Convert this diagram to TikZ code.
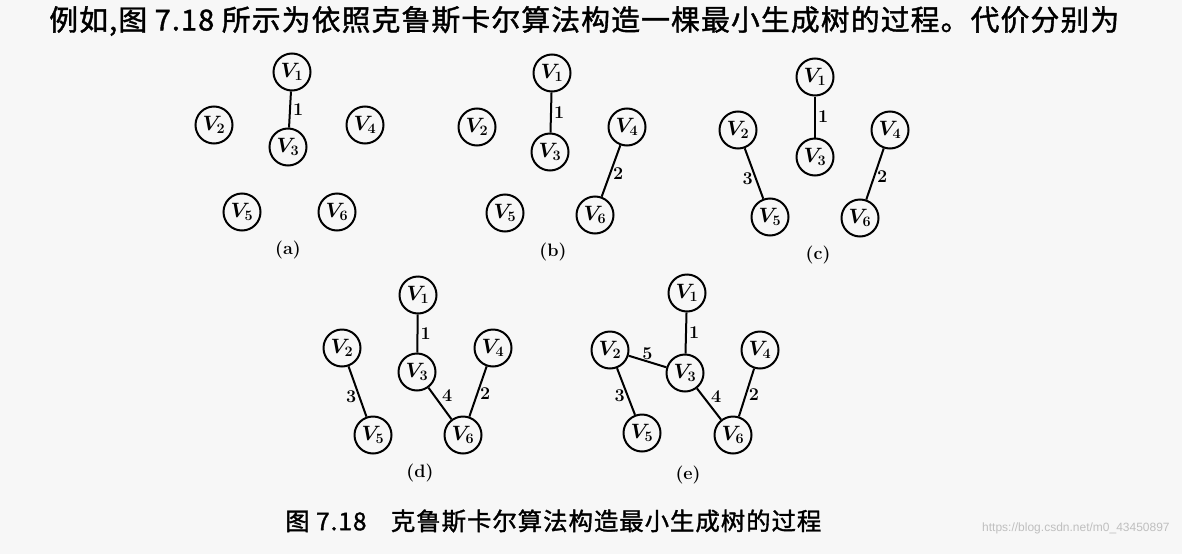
\documentclass[tikz,border=0pt]{standalone}
\usepackage{fontspec}
\newfontfamily\cjk[FakeBold=1.4,LetterSpace=4]{Noto Sans CJK SC}
\newfontfamily\wmfont{Liberation Sans}
\begin{document}
\begin{tikzpicture}[x=1pt,y=-1pt,line width=2pt,
vtx/.style={draw,circle,minimum size=37pt,inner sep=0pt,font=\fontsize{21}{21}\selectfont\boldmath},
wt/.style={font=\fontsize{18}{18}\selectfont\bfseries,inner sep=2pt},
sublabel/.style={font=\fontsize{18}{18}\selectfont\bfseries}]
\fill[black!3] (0,0) rectangle (1182,554);
\useasboundingbox (0,0) rectangle (1182,554);
\node[anchor=west] (intro) at (45,21) {\cjk\fontsize{28.8}{28}\selectfont 例如,图 7.18 所示为依照克鲁斯卡尔算法构造一棵最小生成树的过程。代价分别为};
% (a)
\node[vtx] (a1) at (292,72) {$V_1$};
\node[vtx] (a2) at (214,125) {$V_2$};
\node[vtx] (a3) at (288,147) {$V_3$};
\node[vtx] (a4) at (365,125) {$V_4$};
\node[vtx] (a5) at (242,212) {$V_5$};
\node[vtx] (a6) at (337,212) {$V_6$};
\node[sublabel] (capa) at (288,250) {(a)};
\draw (a1) -- node[wt,right]{1} (a3);
% (b)
\node[vtx] (b1) at (552,73) {$V_1$};
\node[vtx] (b2) at (477,127) {$V_2$};
\node[vtx] (b3) at (550,152) {$V_3$};
\node[vtx] (b4) at (627,127) {$V_4$};
\node[vtx] (b5) at (505,213) {$V_5$};
\node[vtx] (b6) at (595,215) {$V_6$};
\node[sublabel] (capb) at (553,252) {(b)};
\draw (b1) -- node[wt,right]{1} (b3);
\draw (b4) -- node[wt,right,pos=.55]{2} (b6);
% (c)
\node[vtx] (c1) at (815,77) {$V_1$};
\node[vtx] (c2) at (738,130) {$V_2$};
\node[vtx] (c3) at (815,157) {$V_3$};
\node[vtx] (c4) at (890,130) {$V_4$};
\node[vtx] (c5) at (770,217) {$V_5$};
\node[vtx] (c6) at (860,218) {$V_6$};
\node[sublabel] (capc) at (818,255) {(c)};
\draw (c1) -- node[wt,right]{1} (c3);
\draw (c2) -- node[wt,left,pos=.6]{3} (c5);
\draw (c4) -- node[wt,right,pos=.55]{2} (c6);
% (d)
\node[vtx] (d1) at (418,295) {$V_1$};
\node[vtx] (d2) at (342,348) {$V_2$};
\node[vtx] (d3) at (417,372) {$V_3$};
\node[vtx] (d4) at (493,348) {$V_4$};
\node[vtx] (d5) at (373,435) {$V_5$};
\node[vtx] (d6) at (463,435) {$V_6$};
\node[sublabel] (capd) at (420,473) {(d)};
\draw (d1) -- node[wt,right]{1} (d3);
\draw (d2) -- node[wt,left,pos=.6]{3} (d5);
\draw (d4) -- node[wt,right,pos=.55]{2} (d6);
\draw (d3) -- node[wt,above right,inner sep=1pt]{4} (d6);
% (e)
\node[vtx] (e1) at (687,293) {$V_1$};
\node[vtx] (e2) at (610,350) {$V_2$};
\node[vtx] (e3) at (685,373) {$V_3$};
\node[vtx] (e4) at (760,350) {$V_4$};
\node[vtx] (e5) at (642,433) {$V_5$};
\node[vtx] (e6) at (733,435) {$V_6$};
\node[sublabel] (cape) at (688,475) {(e)};
\draw (e1) -- node[wt,right]{1} (e3);
\draw (e2) -- node[wt,above,inner sep=1pt]{5} (e3);
\draw (e2) -- node[wt,left,pos=.6]{3} (e5);
\draw (e4) -- node[wt,right,pos=.55]{2} (e6);
\draw (e3) -- node[wt,above right,inner sep=1pt]{4} (e6);
% caption
\node[anchor=west] (fig) at (281,521) {\cjk\fontsize{24.4}{24}\selectfont 图 7.18\quad 克鲁斯卡尔算法构造最小生成树的过程};
\node[anchor=east,text=black!25] (wm) at (1174,528) {\wmfont\fontsize{12}{12}\selectfont https://blog.csdn.net/m0\_43450897};
\end{tikzpicture}
\end{document}
